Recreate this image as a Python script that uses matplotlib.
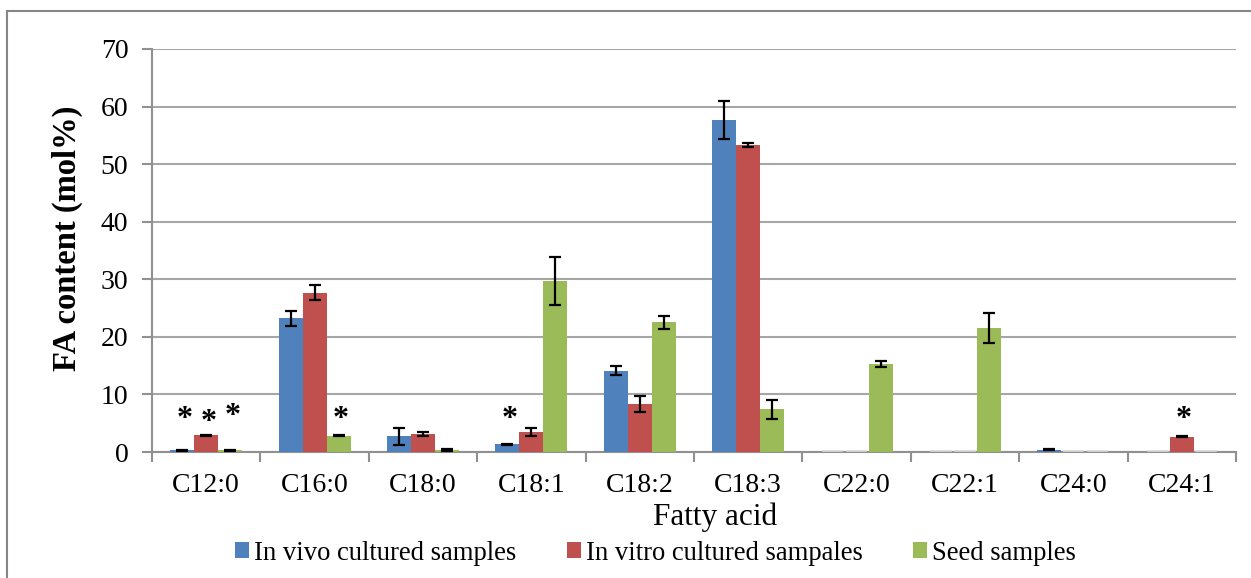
import matplotlib
matplotlib.use("Agg")
import matplotlib.pyplot as plt
import numpy as np
from matplotlib.lines import Line2D

categories = ["C12:0", "C16:0", "C18:0", "C18:1", "C18:2", "C18:3", "C22:0", "C22:1", "C24:0", "C24:1"]
series_names = ["In vivo cultured samples", "In vitro cultured sampales", "Seed samples"]
in_vivo = [0.3, 23.2, 2.7, 1.35, 14.1, 57.7, 0, 0, 0.4, 0]
in_vivo_err = [0.1, 1.3, 1.4, 0.1, 0.8, 3.3, 0, 0, 0.1, 0]
in_vitro = [2.9, 27.7, 3.1, 3.5, 8.3, 53.3, 0, 0, 0, 2.65]
in_vitro_err = [0.1, 1.3, 0.4, 0.75, 1.4, 0.3, 0, 0, 0, 0.1]
seed = [0.3, 2.8, 0.35, 29.7, 22.5, 7.4, 15.3, 21.5, 0, 0]
seed_err = [0.1, 0.1, 0.2, 4.2, 1.15, 1.6, 0.45, 2.6, 0, 0]
# asterisks: (category index, series index, height)
stars = [(0, 0, 5.6), (0, 1, 5.2), (0, 2, 6.1), (1, 2, 5.7), (3, 0, 5.6), (9, 1, 5.6)]

colors = ["#4F81BD", "#C0504D", "#9BBB59"]
values = [in_vivo, in_vitro, seed]
errors = [in_vivo_err, in_vitro_err, seed_err]

plt.rcParams['font.family'] = ['Liberation Serif', 'DejaVu Serif']

W, H = 1251, 578
fig = plt.figure(figsize=(W / 100, H / 100), dpi=100)
ax = fig.add_axes([152 / W, 1 - 452 / H, (1236 - 152) / W, (452 - 49) / H])

x = np.arange(len(categories))
bw = 0.221
handles = []
for i, (vals, errs, c) in enumerate(zip(values, errors, colors)):
    pos = x + (i - 1) * bw
    b = ax.bar(pos, vals, bw, color=c, zorder=3, label=series_names[i])
    handles.append(b)
    for p, v in zip(pos, vals):
        if v == 0:
            ax.plot([p - bw / 2 + 0.02, p + bw / 2 - 0.02], [0.1, 0.1], color="#d9d9d9", lw=1.2, zorder=3)
    mask = [e > 0 for e in errs]
    ax.errorbar(pos[mask], np.array(vals)[mask], yerr=np.array(errs)[mask], fmt="none",
                ecolor="black", elinewidth=1.6, capsize=4.2, capthick=1.6, zorder=4)

for ci, si, h in stars:
    ax.text(ci + (si - 1) * bw + 0.02, h, "*", ha="center", va="center", fontsize=23,
            fontweight="bold", color="black", zorder=5)

ax.set_xlim(-0.5, len(categories) - 0.5)
ax.set_ylim(0, 70)
ax.set_yticks(np.arange(0, 71, 10))
ax.set_xticks(x)
ax.set_xticklabels(categories)
ax.set_xticks(np.arange(-0.5, len(categories), 1), minor=True)
ax.tick_params(axis="x", which="major", length=0, pad=15, labelsize=20)
ax.tick_params(axis="x", which="minor", length=7, width=1.5, color="#909090")
ax.tick_params(axis="y", length=7, width=1.5, color="#909090", pad=10, labelsize=20)
ax.grid(axis="y", color="#A6A6A6", lw=1.5, zorder=0)
for s in ["top", "right"]:
    ax.spines[s].set_visible(False)
for s in ["left", "bottom"]:
    ax.spines[s].set_color("#909090")
    ax.spines[s].set_linewidth(1.5)

ax.set_ylabel("FA content (mol%)", fontsize=23.5, fontweight="bold")
ax.yaxis.set_label_coords((83 - 152) / 1084, 0.53)
ax.set_xlabel("Fatty acid", fontsize=22.5)
ax.xaxis.set_label_coords((715 - 152) / 1084, -(503 - 452) / 403)

fig.legend(handles=handles, labels=series_names, loc="center", bbox_to_anchor=(655.5 / W, 1 - 553 / H),
           ncol=3, frameon=False, fontsize=19.2, handlelength=0.52, handleheight=0.52,
           handletextpad=0.18, columnspacing=1.9, borderaxespad=0, borderpad=0)

# outer chart border
fig.add_artist(Line2D([7 / W, 7 / W], [0, 1 - 11 / H], transform=fig.transFigure, color="#868686", lw=1.5))
fig.add_artist(Line2D([7 / W, 1], [1 - 11 / H, 1 - 11 / H], transform=fig.transFigure, color="#868686", lw=1.5))

fig.savefig("out.png", dpi=100)
